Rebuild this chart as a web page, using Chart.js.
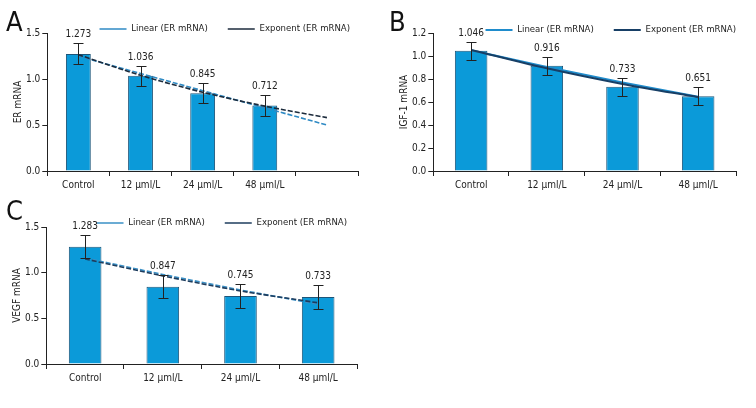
<!DOCTYPE html>
<html>
<head>
<meta charset="utf-8">
<script src="https://cdn.jsdelivr.net/npm/chart.js@4.4.0/dist/chart.umd.min.js"></script>
<style>
  body { margin: 0; background: #fff; width: 756px; height: 408px; position: relative; overflow: hidden;
         font-family: "DejaVu Sans Condensed", "DejaVu Sans", sans-serif; }
  .panel { position: absolute; width: 378px; height: 204px; }
  .letter { position: absolute; font-size: 27px; color: #111; line-height: 1; }
</style>
</head>
<body>
<div class="panel" style="left:0;top:0"><canvas id="chartA" width="378" height="204"></canvas></div>
<div class="panel" style="left:378px;top:0"><canvas id="chartB" width="378" height="204"></canvas></div>
<div class="panel" style="left:0;top:204px"><canvas id="chartC" width="378" height="204"></canvas></div>
<div class="letter" style="left:6px;top:8px">A</div>
<div class="letter" style="left:389px;top:8px">B</div>
<div class="letter" style="left:6px;top:197px">C</div>
<script>
const FONT = '"DejaVu Sans Condensed", "DejaVu Sans", sans-serif';

// A - ER mRNA (fifth category left empty, trend lines run into it)
const labelsA = ["Control", "12 μml/L", "24 μml/L", "48 μml/L", ""];
const erMrna = [1.273, 1.036, 0.845, 0.712, null];
const erError = [0.115, 0.11, 0.11, 0.11, null];
const erLinear = [1.248, 1.06, 0.873, 0.686, 0.5];
const erExponent = [1.264, 1.04, 0.856, 0.705, 0.58];
const ticksA = [0, 0.5, 1.0, 1.5];

// B - IGF-1 mRNA
const labelsB = ["Control", "12 μml/L", "24 μml/L", "48 μml/L"];
const igfMrna = [1.046, 0.916, 0.733, 0.651];
const igfError = [0.078, 0.078, 0.078, 0.078];
const igfLinear = [1.05, 0.905, 0.77, 0.645];
const igfExponent = [1.053, 0.893, 0.757, 0.642];
const ticksB = [0, 0.2, 0.4, 0.6, 0.8, 1.0, 1.2];

// C - VEGF mRNA
const labelsC = ["Control", "12 μml/L", "24 μml/L", "48 μml/L"];
const vegfMrna = [1.283, 0.847, 0.745, 0.733];
const vegfError = [0.125, 0.127, 0.133, 0.13];
const vegfLinear = [1.16, 0.98, 0.81, 0.655];
const vegfExponent = [1.15, 0.965, 0.8, 0.67];
const ticksC = [0, 0.5, 1.0, 1.5];

// error bars + value labels on top of the bars
const errorBars = {
  id: "errorBars",
  afterDatasetsDraw(chart) {
    const ds = chart.data.datasets[0];
    const meta = chart.getDatasetMeta(0);
    const y = chart.scales.y;
    const ctx = chart.ctx;
    ctx.save();
    ctx.strokeStyle = "#222";
    ctx.lineWidth = 1;
    ctx.fillStyle = "#222";
    ctx.font = "10px " + FONT;
    ctx.textAlign = "center";
    ctx.textBaseline = "middle";
    meta.data.forEach((bar, i) => {
      const v = ds.data[i];
      if (v == null) return;
      const e = ds.errors[i];
      const top = Math.round(y.getPixelForValue(v + e)) + 0.5;
      const bot = Math.round(y.getPixelForValue(v - e)) + 0.5;
      const x = Math.round(bar.x) + 0.5;
      ctx.beginPath();
      ctx.moveTo(x, top); ctx.lineTo(x, bot);
      ctx.moveTo(x - 5, top); ctx.lineTo(x + 5, top);
      ctx.moveTo(x - 5, bot); ctx.lineTo(x + 5, bot);
      ctx.stroke();
      ctx.fillText(v.toFixed(3), bar.x, top - 9);
    });
    ctx.restore();
  },
};

// legend sits over the top of the plot, like the original figure
const legendPlacer = {
  id: "legendPlacer",
  afterLayout(chart, args, opts) {
    const lg = chart.legend;
    const labels = chart.options.plugins.legend.labels;
    const pad = labels.padding;
    const fs = labels.font.size;
    lg.top = opts.y - pad - fs / 2;
    lg.bottom = lg.top + pad * 2 + fs + 6;
    lg.height = lg.bottom - lg.top;
    lg.left = 0;
    lg.right = opts.right + pad;
    lg.width = lg.right;
  },
};

function makePanel(id, opts) {
  const ctx = document.getElementById(id).getContext("2d");
  return new Chart(ctx, {
    type: "bar",
    data: {
      labels: opts.labels,
      datasets: [
        {
          type: "bar",
          label: opts.title,
          data: opts.values,
          errors: opts.errors,
          backgroundColor: "#0b9ad9",
          borderColor: "#1d5579",
          borderWidth: 1,
          barPercentage: opts.barPct,
          categoryPercentage: 1,
          order: 2,
        },
        {
          type: "line",
          label: "Linear (ER mRNA)",
          data: opts.linear,
          borderColor: opts.linColor,
          borderWidth: opts.lineWidth,
          borderDash: opts.dash,
          pointRadius: 0,
          fill: false,
          order: 1,
        },
        {
          type: "line",
          label: "Exponent (ER mRNA)",
          data: opts.exponent,
          borderColor: opts.expColor,
          borderWidth: opts.lineWidth,
          borderDash: opts.dash,
          pointRadius: 0,
          tension: 0.3,
          fill: false,
          order: 0,
        },
      ],
    },
    options: {
      responsive: false,
      animation: false,
      layout: { padding: opts.padding },
      plugins: {
        tooltip: { enabled: false },
        legendPlacer: opts.legend,
        legend: {
          position: "top",
          align: "end",
          maxHeight: 1,
          labels: {
            filter: (item) => item.datasetIndex > 0,
            sort: (a, b) => a.datasetIndex - b.datasetIndex,
            usePointStyle: true,
            pointStyle: "line",
            pointStyleWidth: 27,
            boxHeight: 10,
            padding: 20,
            color: "#222",
            font: { family: FONT, size: 9.5 },
          },
        },
      },
      scales: {
        x: {
          grid: { display: true, drawOnChartArea: false, drawTicks: true, tickLength: 5, color: "#222", offset: true },
          border: { color: "#222" },
          ticks: { color: "#222", font: { family: FONT, size: 10 }, padding: 3 },
        },
        y: {
          min: opts.ticks[0],
          max: opts.ticks[opts.ticks.length - 1],
          afterBuildTicks: (scale) => { scale.ticks = opts.ticks.map((v) => ({ value: v })); },
          grid: { display: true, drawOnChartArea: false, drawTicks: true, tickLength: 5, color: "#222" },
          border: { color: "#222" },
          ticks: { color: "#222", font: { family: FONT, size: 10 }, padding: 2, callback: (v) => Number(v).toFixed(1) },
          title: { display: true, text: opts.title, color: "#222", font: { family: FONT, size: 10 }, padding: { top: 3, bottom: 0 } },
        },
      },
    },
    plugins: [errorBars, legendPlacer],
  });
}

makePanel("chartA", {
  labels: labelsA, values: erMrna, errors: erError, linear: erLinear, exponent: erExponent,
  ticks: ticksA, title: "ER mRNA", barPct: 0.4,
  linColor: "#2f8ac4", expColor: "#1c2b3c", lineWidth: 1.6, dash: [5, 2],
  padding: { left: 9, right: 20, top: 32, bottom: 10 },
  legend: { y: 29, right: 350 },
});

makePanel("chartB", {
  labels: labelsB, values: igfMrna, errors: igfError, linear: igfLinear, exponent: igfExponent,
  ticks: ticksB, title: "IGF-1 mRNA", barPct: 0.43,
  linColor: "#1f8ccc", expColor: "#173f66", lineWidth: 2, dash: [],
  padding: { left: 17, right: 20, top: 32, bottom: 10 },
  legend: { y: 30, right: 358 },
});

makePanel("chartC", {
  labels: labelsC, values: vegfMrna, errors: vegfError, linear: vegfLinear, exponent: vegfExponent,
  ticks: ticksC, title: "VEGF mRNA", barPct: 0.42,
  linColor: "#3a90c6", expColor: "#1e3d5e", lineWidth: 1.6, dash: [5, 2],
  padding: { left: 8, right: 21, top: 22, bottom: 21 },
  legend: { y: 19, right: 347 },
});
</script>
</body>
</html>
